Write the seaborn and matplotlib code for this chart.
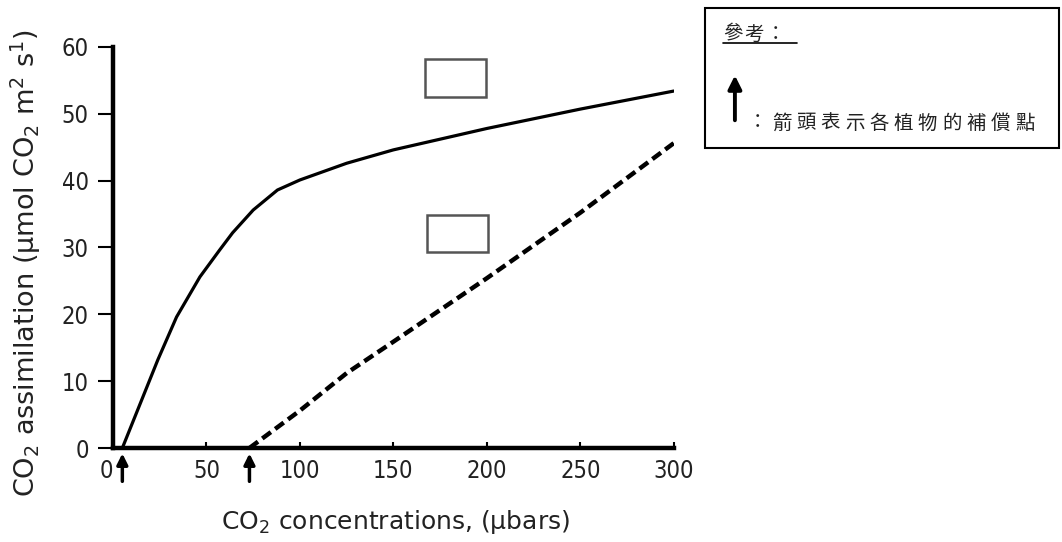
import matplotlib
matplotlib.use('Agg')
import matplotlib.pyplot as plt
import matplotlib.patches as patches
import numpy as np
import pandas as pd
import seaborn as sns

# data
solid_x = [5, 24, 34, 46.5, 57, 64, 75, 88, 100, 125, 150, 200, 250, 300]
solid_y = [0, 13.2, 19.6, 25.6, 29.6, 32.2, 35.6, 38.6, 40.1, 42.6, 44.6, 47.8, 50.7, 53.4]
dashed_x = [73, 100, 125, 150, 200, 250, 300]
dashed_y = [0, 5.6, 11.2, 15.9, 25.4, 35.2, 45.6]
compensation_points = [5, 73]
x_ticks = [0, 50, 100, 150, 200, 250, 300]
y_ticks = [0, 10, 20, 30, 40, 50, 60]
ref_title = '參考：'
ref_text = '：箭頭表示各植物的補償點'

sns.set_theme(style='white')
plt.rcParams['font.family'] = ['DejaVu Sans']
plt.rcParams['mathtext.fontset'] = 'dejavusans'

fig = plt.figure(figsize=(10.62, 5.42), dpi=100)
ax = fig.add_axes([0.1064, 0.1734, 0.528, 0.740])

df_solid = pd.DataFrame({'x': solid_x, 'y': solid_y})
df_dash = pd.DataFrame({'x': dashed_x, 'y': dashed_y})
sns.lineplot(data=df_solid, x='x', y='y', ax=ax, color='black', lw=2.3, sort=False)
sns.lineplot(data=df_dash, x='x', y='y', ax=ax, color='black', lw=3.2,
             linestyle=(0, (2.4, 1.2)), sort=False)

ax.set_xlim(0, 300)
ax.set_ylim(0, 60)
ax.set_xticks(x_ticks)
ax.set_yticks(y_ticks)
ax.tick_params(axis='x', bottom=True, direction='in', length=4.5, width=1.5, pad=8,
               labelsize=17, labelcolor='#222222', color='black')
ax.tick_params(axis='y', left=True, direction='out', length=11, width=1.5, pad=6.5,
               labelsize=17, labelcolor='#222222', color='black')
for lab in ax.get_xticklabels() + ax.get_yticklabels():
    lab.set_fontstretch('condensed')
ax.get_xticklabels()[0].set_ha('right')
for s in ['top', 'right']:
    ax.spines[s].set_visible(False)
for s in ['left', 'bottom']:
    ax.spines[s].set_linewidth(3.2)
    ax.spines[s].set_color('black')

ax.set_xlabel('CO$_2$ concentrations, (µbars)', fontsize=18, color='#222222')
ax.set_ylabel('CO$_2$ assimilation (µmol CO$_2$ m$^2$ s$^1$)', fontsize=19.5, color='#222222')
ax.xaxis.set_label_coords(0.503, -0.15)
ax.yaxis.set_label_coords(-0.125, 0.46)

# compensation point arrows under the x axis
for cp in compensation_points:
    ax.annotate('', xy=(cp, -0.4), xytext=(cp, -5.4),
                arrowprops=dict(arrowstyle='-|>', lw=2.5, color='black', mutation_scale=16),
                annotation_clip=False)

# blank label boxes
ax.add_patch(patches.Rectangle((167, 52.5), 32.5, 5.7, fill=False, ec='#555555', lw=1.8))
ax.add_patch(patches.Rectangle((168, 29.3), 32.5, 5.6, fill=False, ec='#555555', lw=1.8))

# reference box on the right
fig.patches.append(patches.Rectangle((0.6638, 0.727), 0.333, 0.258, transform=fig.transFigure,
                                     fill=False, ec='black', lw=1.5))
cjk = ['Noto Sans CJK TC', 'DejaVu Sans']
for i, ch in enumerate(ref_title):
    fig.text(0.6808 + i * 0.0200, 0.937, ch, family=cjk, fontsize=14, color='#222222',
             ha='left', va='center')
fig.lines.append(plt.Line2D([0.6808, 0.7505], [0.9207, 0.9207], transform=fig.transFigure,
                            color='black', lw=1.2))
fig.patches.append(patches.FancyArrowPatch((0.692, 0.773), (0.692, 0.866), transform=fig.transFigure,
                                           arrowstyle='-|>', mutation_scale=20, lw=2.8, color='black'))
for i, ch in enumerate(ref_text):
    fig.text(0.7040 + i * 0.0229, 0.773, ch, family=cjk, fontsize=14, color='#222222',
             ha='left', va='center')

fig.savefig('out.png', dpi=100)
